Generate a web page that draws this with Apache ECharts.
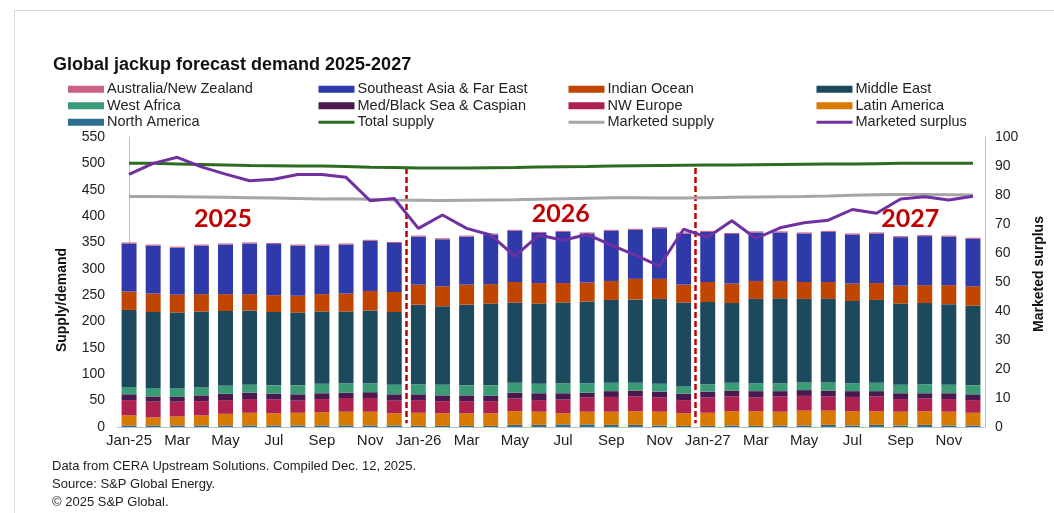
<!DOCTYPE html>
<html>
<head>
<meta charset="utf-8">
<title>Global jackup forecast demand 2025-2027</title>
<script src="https://cdn.jsdelivr.net/npm/echarts@6/dist/echarts.min.js"></script>
<style>
  html, body { margin: 0; padding: 0; background: #fff; }
  #chart { width: 1054px; height: 513px; }
</style>
</head>
<body>
<div id="chart"></div>
<script>
// months Jan-25 .. Dec-27
const months = [
  'Jan-25', 'Feb-25', 'Mar-25', 'Apr-25', 'May-25', 'Jun-25', 'Jul-25', 'Aug-25', 'Sep-25', 'Oct-25', 'Nov-25', 'Dec-25',
  'Jan-26', 'Feb-26', 'Mar-26', 'Apr-26', 'May-26', 'Jun-26', 'Jul-26', 'Aug-26', 'Sep-26', 'Oct-26', 'Nov-26', 'Dec-26',
  'Jan-27', 'Feb-27', 'Mar-27', 'Apr-27', 'May-27', 'Jun-27', 'Jul-27', 'Aug-27', 'Sep-27', 'Oct-27', 'Nov-27', 'Dec-27'
]

// demand by region (rigs), stacked bottom -> top
const northAmerica = [3, 3, 3, 3, 3, 3, 3, 3, 3, 3, 3, 3,
  2, 2, 2, 2, 4, 4, 5, 5, 4, 4, 3, 2,
  2, 3, 2, 3, 3, 4, 3, 4, 3, 4, 3, 3]
const latinAmerica = [19, 15, 17, 19, 22, 24, 23, 24, 25, 26, 26, 23,
  25, 24, 24, 24, 26, 25, 21, 24, 25, 26, 26, 24,
  25, 27, 28, 26, 28, 27, 27, 26, 26, 26, 26, 24]
const nwEurope = [29, 30, 28, 27, 26, 26, 26, 23, 25, 26, 26, 24,
  24, 23, 23, 23, 24, 22, 26, 27, 28, 28, 27, 25,
  29, 28, 26, 29, 28, 27, 27, 28, 24, 24, 24, 24]
const medBlackSea = [11, 10, 9, 11, 12, 12, 11, 12, 11, 10, 11, 12,
  11, 11, 11, 10, 11, 13, 12, 9, 11, 11, 11, 12,
  11, 11, 12, 10, 11, 11, 11, 10, 11, 10, 11, 11]
const westAfrica = [14, 16, 16, 15, 15, 15, 16, 17, 18, 18, 17, 18,
  19, 20, 19, 20, 19, 18, 19, 18, 16, 15, 15, 14,
  14, 15, 15, 15, 15, 16, 15, 16, 16, 17, 16, 17]
const middleEast = [146, 144, 144, 144, 142, 141, 139, 138, 137, 136, 138, 138,
  151, 149, 153, 155, 152, 152, 153, 155, 157, 158, 161, 159,
  156, 151, 160, 161, 158, 158, 156, 157, 154, 154, 153, 151]
const indianOcean = [35, 35, 34, 33, 32, 31, 32, 32, 33, 34, 37, 38,
  38, 38, 38, 37, 39, 39, 37, 36, 36, 39, 38, 34,
  38, 37, 34, 33, 32, 32, 33, 32, 34, 34, 36, 37]
const seAsia = [91, 91, 89, 92, 94, 96, 97, 95, 92, 93, 95, 93,
  91, 89, 91, 94, 97, 95, 97, 93, 95, 93, 96, 97,
  95, 94, 92, 92, 92, 95, 93, 94, 92, 93, 92, 90]
const ausNz = [2, 2, 2, 2, 2, 2, 2, 2, 2, 2, 2, 2,
  2, 2, 2, 2, 2, 2, 2, 2, 2, 2, 2, 2,
  2, 2, 2, 2, 2, 2, 2, 2, 2, 2, 2, 2]

// supply lines (left axis) and surplus (right axis)
const totalSupply = [500, 500, 499, 498, 497, 496, 495.5, 495, 495, 494, 492.5, 492,
  491, 491, 491, 491.5, 492, 493, 493.5, 494, 495, 495.5, 496, 496.5,
  497, 497, 497.5, 498, 498.5, 499, 499, 499.5, 500, 500, 500, 500]
const marketedSupply = [437, 437, 436.5, 436, 435.5, 435, 434.5, 433.5, 432.5, 433, 432, 430.5,
  430, 429.5, 430, 430.5, 431, 432, 433, 434, 435, 435, 434.5, 434.5,
  435, 435.5, 436, 436.5, 437, 438, 439.5, 440.5, 441, 441, 440.5, 440]
const marketedSurplus = [87.1, 90.9, 93.0, 89.7, 87.2, 84.9, 85.4, 87.1, 87.1, 86.1, 78.0, 78.8,
  68.5, 73.1, 68.5, 66.2, 58.9, 66.2, 64.4, 66.4, 62.7, 59.3, 55.5, 68.2,
  65.4, 71.1, 65.0, 68.7, 70.4, 71.3, 75.0, 73.7, 78.6, 79.4, 78.3, 79.6]

const yearLabels = ['2025', '2026', '2027']

const FONT = '"Liberation Sans", Arial, sans-serif'

const chart = echarts.init(document.getElementById('chart'), null, { renderer: 'canvas' })

function barSeries(name, data, color) {
  return {
    name: name,
    type: 'bar',
    stack: 'demand',
    barWidth: '62%',
    data: data,
    itemStyle: { color: color },
    emphasis: { disabled: true }
  }
}

function lineSeries(name, data, color, yAxisIndex) {
  return {
    name: name,
    type: 'line',
    yAxisIndex: yAxisIndex,
    data: data,
    symbol: 'none',
    z: 5,
    lineStyle: { color: color, width: 3 },
    itemStyle: { color: color },
    emphasis: { disabled: true }
  }
}

// line entries in the legend: line only, no marker
function lineItem(name) {
  return { name: name, itemStyle: { opacity: 0 }, lineStyle: { width: 3 } }
}

const legendBase = {
  orient: 'vertical',
  top: 81,
  itemWidth: 36,
  itemHeight: 7,
  itemGap: 0,
  padding: 0,
  selectedMode: false,
  textStyle: { fontFamily: FONT, fontSize: 14.5, color: '#222', lineHeight: 16.5, padding: [0, 0, 0, -2] }
}

chart.setOption({
  animation: false,
  backgroundColor: '#fff',
  title: {
    text: 'Global jackup forecast demand 2025-2027',
    left: 48,
    top: 51,
    textStyle: { fontFamily: FONT, fontSize: 18, fontWeight: 'bold', color: '#111' }
  },
  legend: [
    Object.assign({}, legendBase, { left: 68, data: [
      { name: 'Australia/New Zealand', icon: 'rect' },
      { name: 'West Africa', icon: 'rect' },
      { name: 'North America', icon: 'rect' }] }),
    Object.assign({}, legendBase, { left: 317, data: [
      { name: 'Southeast Asia & Far East', icon: 'rect' },
      { name: 'Med/Black Sea & Caspian', icon: 'rect' },
      lineItem('Total supply')] }),
    Object.assign({}, legendBase, { left: 567, data: [
      { name: 'Indian Ocean', icon: 'rect' },
      { name: 'NW Europe', icon: 'rect' },
      lineItem('Marketed supply')] }),
    Object.assign({}, legendBase, { left: 815, data: [
      { name: 'Middle East', icon: 'rect' },
      { name: 'Latin America', icon: 'rect' },
      lineItem('Marketed surplus')] })
  ],
  grid: { left: 117, right: 67, top: 137, bottom: 86, containLabel: false },
  xAxis: [{
    type: 'category',
    data: months,
    boundaryGap: true,
    axisLine: { show: true, lineStyle: { color: '#BFBFBF', width: 1 } },
    axisTick: { show: false },
    axisLabel: {
      interval: 1,
      margin: 6,
      fontFamily: FONT,
      fontSize: 15,
      color: '#222',
      formatter: function (v) { return v.indexOf('Jan') === 0 ? v : v.slice(0, 3) }
    }
  }, {
    // helper axis for the year dividers and year labels
    type: 'value',
    min: -0.5,
    max: 35.5,
    show: false
  }],
  yAxis: [{
    type: 'value',
    min: 0,
    max: 550,
    interval: 50,
    name: 'Supply/demand',
    nameLocation: 'middle',
    nameGap: 48,
    nameTextStyle: { fontFamily: FONT, fontSize: 14, fontWeight: 'bold', color: '#111', padding: [0, 36, 0, 0] },
    axisLine: { show: true, lineStyle: { color: '#BFBFBF', width: 1 } },
    axisTick: { show: false },
    splitLine: { show: false },
    axisLabel: { margin: 12, fontFamily: FONT, fontSize: 14, color: '#222' }
  }, {
    type: 'value',
    min: 0,
    max: 100,
    interval: 10,
    name: 'Marketed surplus',
    nameLocation: 'middle',
    nameGap: 47,
    nameRotate: 90,
    nameTextStyle: { fontFamily: FONT, fontSize: 14, fontWeight: 'bold', color: '#111', padding: [0, 0, 0, 16] },
    axisLine: { show: true, lineStyle: { color: '#BFBFBF', width: 1 } },
    axisTick: { show: false },
    splitLine: { show: false },
    axisLabel: { margin: 10, fontFamily: FONT, fontSize: 14, color: '#222' }
  }],
  series: [
    barSeries('North America', northAmerica, '#2E6E8E'),
    barSeries('Latin America', latinAmerica, '#D87A00'),
    barSeries('NW Europe', nwEurope, '#AE2150'),
    barSeries('Med/Black Sea & Caspian', medBlackSea, '#4B1850'),
    barSeries('West Africa', westAfrica, '#3A9B76'),
    barSeries('Middle East', middleEast, '#1C4A5C'),
    barSeries('Indian Ocean', indianOcean, '#BF4500'),
    barSeries('Southeast Asia & Far East', seAsia, '#2E3AAA'),
    barSeries('Australia/New Zealand', ausNz, '#C95F85'),
    lineSeries('Total supply', totalSupply, '#2D6A22', 0),
    lineSeries('Marketed supply', marketedSupply, '#A6A6A6', 0),
    lineSeries('Marketed surplus', marketedSurplus, '#7030A0', 1),
    {
      name: 'dividers',
      type: 'line',
      xAxisIndex: 1,
      yAxisIndex: 0,
      data: [],
      silent: true,
      z: 6,
      markLine: {
        silent: true,
        symbol: 'none',
        label: { show: false },
        lineStyle: { color: '#C00000', width: 2.5, type: [6, 3] },
        data: [
          [{ coord: [11.5, 491] }, { coord: [11.5, 7] }],
          [{ coord: [23.5, 491] }, { coord: [23.5, 7] }]
        ]
      },
      markPoint: {
        silent: true,
        symbol: 'circle',
        symbolSize: 1,
        itemStyle: { color: 'rgba(0,0,0,0)' },
        label: {
          show: true,
          position: 'inside',
          formatter: '{b}',
          fontFamily: 'Lato, "Open Sans", sans-serif',
          fontSize: 25,
          fontWeight: 'bold',
          color: '#C00000'
        },
        data: [
          { name: yearLabels[0], coord: [3.9, 394] },
          { name: yearLabels[1], coord: [17.9, 404] },
          { name: yearLabels[2], coord: [32.4, 395] }
        ]
      }
    }
  ],
  graphic: [
    { type: 'rect', left: 12, top: 8, silent: true, z: -10,
      shape: { width: 1060, height: 520 }, style: { fill: 'none', stroke: '#D9D9D9', lineWidth: 1 } },
    { type: 'text', left: 52, top: 460, style: { text: 'Data from CERA Upstream Solutions. Compiled Dec. 12, 2025.', font: '13px ' + FONT, fill: '#222' } },
    { type: 'text', left: 52, top: 478, style: { text: 'Source: S&P Global Energy.', font: '13px ' + FONT, fill: '#222' } },
    { type: 'text', left: 52, top: 496, style: { text: '\u00A9 2025 S&P Global.', font: '13px ' + FONT, fill: '#222' } }
  ]
})
</script>
</body>
</html>
